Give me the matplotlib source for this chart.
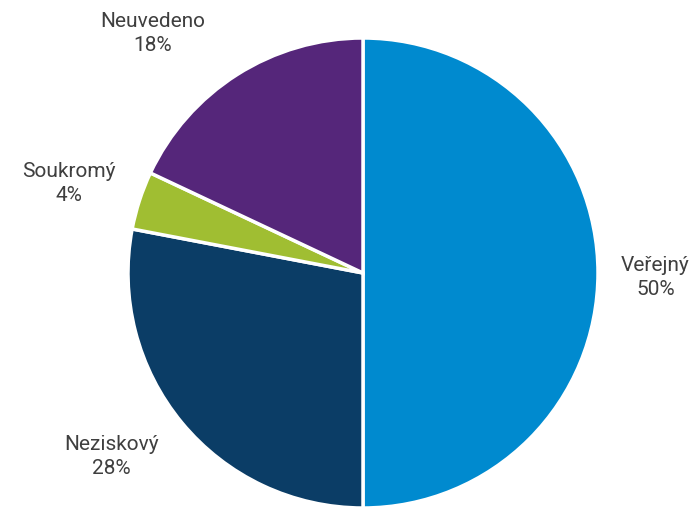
import matplotlib.pyplot as plt
import numpy as np

plt.rcParams['font.family'] = ['Roboto', 'DejaVu Sans']

labels = ["Veřejný", "Neziskový", "Soukromý", "Neuvedeno"]
values = [50, 28, 4, 18]
colors = ["#008ACF", "#0B3D66", "#A0BE32", "#55267A"]

# label positions in units of pie radius
label_pos = [(1.245, -0.02), (-1.07, -0.78), (-1.25, 0.38), (-0.895, 1.02)]

fig = plt.figure(figsize=(7, 5.08), dpi=100)
ax = fig.add_axes([0, 0, 1, 1])

cx, cy, r_px = 363, 273, 235
ax.pie(values, colors=colors, startangle=90, counterclock=False,
       radius=1, wedgeprops=dict(edgecolor="white", linewidth=2.5))
ax.set_xlim(-cx / r_px, (700 - cx) / r_px)
ax.set_ylim(-(508 - cy) / r_px, cy / r_px)
ax.set_aspect("equal")
ax.axis("off")

for lab, v, (x, y) in zip(labels, values, label_pos):
    ax.text(x, y, f"{lab}\n{v}%", ha="center", va="center",
            fontsize=15, color="#3f3f3f", linespacing=1.3)

fig.savefig("out.png")
